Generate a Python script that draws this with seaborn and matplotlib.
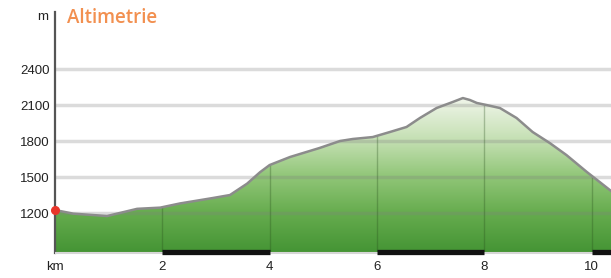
import numpy as np
import pandas as pd
import matplotlib
matplotlib.use("Agg")
import matplotlib.pyplot as plt
import seaborn as sns
from matplotlib.colors import LinearSegmentedColormap

# ---- data ----
distance_km = [0.00, 0.34, 0.97, 1.53, 1.96, 2.33, 2.94, 3.26, 3.58, 3.82, 4.00,
               4.38, 4.93, 5.31, 5.55, 5.92, 6.24, 6.55, 6.80, 7.11, 7.41, 7.60,
               7.73, 7.86, 8.04, 8.29, 8.60, 8.90, 9.22, 9.53, 9.91, 10.15, 10.40]
elevation_m = [1225, 1195, 1175, 1235, 1245, 1280, 1325, 1350, 1445, 1540, 1600,
               1667, 1742, 1800, 1817, 1833, 1875, 1917, 1992, 2075, 2125, 2158,
               2142, 2117, 2100, 2075, 1992, 1875, 1783, 1683, 1542, 1458, 1370]
y_ticks = [1200, 1500, 1800, 2100, 2400]
x_ticks = [0, 2, 4, 6, 8, 10]
x_tick_labels = ["km", "2", "4", "6", "8", "10"]
black_segments = [(2, 4), (6, 8), (10, 10.4)]

df = pd.DataFrame({"km": distance_km, "m": elevation_m})

sns.set_theme(style="white")
plt.rcParams["font.family"] = ["Liberation Sans", "DejaVu Sans"]

W, H = 611, 278
fig = plt.figure(figsize=(W / 100, H / 100), dpi=100)
ax_left, ax_right, ax_top, ax_bot = 55, 611, 12, 253
ax = fig.add_axes([ax_left / W, (H - ax_bot) / H, (ax_right - ax_left) / W, (ax_bot - ax_top) / H])

YMIN, YMAX = 867, 2875
XMAX = 10.36
ax.set_xlim(0, XMAX)
ax.set_ylim(YMIN, YMAX)

# gradient fill clipped to profile
poly = ax.fill_between(df["km"], df["m"], YMIN, color="none", lw=0)
cmap = LinearSegmentedColormap.from_list(
    "alt",
    [(0.0, (68/255, 148/255, 52/255)),
     (0.25, (102/255, 172/255, 78/255)),
     (0.48, (145/255, 198/255, 120/255)),
     (0.70, (195/255, 223/255, 177/255)),
     (1.0, (245/255, 248/255, 240/255))])
grad = np.linspace(0, 1, 256).reshape(-1, 1)
im = ax.imshow(grad, aspect="auto", cmap=cmap, origin="lower",
               extent=[0, XMAX, YMIN, 2200], zorder=1)
path = poly.get_paths()[0]
im.set_clip_path(path, transform=ax.transData)

# horizontal grid lines
for yv in y_ticks:
    ax.axhline(yv, color=(0.5, 0.5, 0.5), alpha=0.28, lw=2.5, zorder=2)

# vertical km lines inside the fill
for xv in x_ticks[1:]:
    top = np.interp(xv, distance_km, elevation_m)
    ax.vlines(xv, YMIN, top, color=(0.15, 0.3, 0.1), alpha=0.3, lw=1, zorder=2)

# outline
sns.lineplot(data=df, x="km", y="m", ax=ax, color="#8c8c8c", lw=1.8, zorder=3,
             sort=False)

# start marker
ax.plot([distance_km[0]], [elevation_m[0]], "o", color="#e8352a", ms=5.5,
        zorder=5, clip_on=False)

# baseline and black segments
ax.hlines(YMIN, 0, XMAX, color="#d6d6d6", lw=1.5, zorder=4, clip_on=False)
for a, b in black_segments:
    ax.hlines(YMIN + 10, a, min(b, XMAX), color="#111111", lw=3.8, zorder=5,
              clip_on=False)

# spines
for s in ["top", "right", "bottom"]:
    ax.spines[s].set_visible(False)
ax.spines["left"].set_color("#555555")
ax.spines["left"].set_linewidth(1.6)

ax.set_yticks(y_ticks)
ax.set_yticklabels([str(v) for v in y_ticks], fontsize=9.5, color="#222222")
ax.set_xticks(x_ticks)
ax.set_xticklabels(x_tick_labels, fontsize=9.5, color="#222222")
ax.tick_params(axis="both", length=0, pad=6)
ax.tick_params(axis="y", pad=4)
ax.set_xlabel("")
ax.set_ylabel("")

fig.text(48 / W, 1 - 17 / H, "m", ha="right", va="center", fontsize=9.5,
         color="#222222")
fig.text(67 / W, 1 - 18 / H, "Altimetrie", ha="left", va="center",
         fontsize=13.5, color="#f29050", weight="semibold",
         family=["Open Sans", "DejaVu Sans"])

fig.savefig("out.png", dpi=100)
